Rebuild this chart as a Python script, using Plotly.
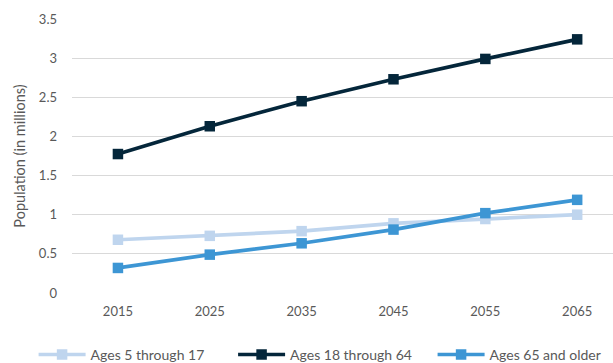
import plotly.graph_objects as go

years = ["2015", "2025", "2035", "2045", "2055", "2065"]
ages_5_17 = [0.68, 0.73, 0.79, 0.89, 0.945, 1.0]
ages_18_64 = [1.775, 2.13, 2.45, 2.73, 2.99, 3.24]
ages_65_up = [0.32, 0.49, 0.635, 0.81, 1.02, 1.19]

series = [
    ("Ages 5 through 17", ages_5_17, "#bfd5ee"),
    ("Ages 18 through 64", ages_18_64, "#04263a"),
    ("Ages 65 and older", ages_65_up, "#3d96d4"),
]

fig = go.Figure()
for name, vals, col in series:
    fig.add_trace(go.Scatter(
        x=years, y=vals, name=name, mode="lines+markers",
        line=dict(color=col, width=3.7),
        marker=dict(symbol="square", size=10.5, color=col),
    ))

font = "Lato, 'Open Sans', sans-serif"
fig.update_layout(
    width=613, height=363,
    margin=dict(l=72, r=0, t=19, b=70, autoexpand=False),
    paper_bgcolor="white", plot_bgcolor="white",
    font=dict(family=font, size=13, color="#595959"),
    showlegend=True,
    legend=dict(orientation="h", x=-0.071, xanchor="left",
                y=-0.226, yanchor="middle",
                font=dict(size=14, color="#595959"), itemwidth=47,
                entrywidth=137.5, entrywidthmode="pixels",
                traceorder="normal"),
    xaxis=dict(type="category", range=[-0.5, 5.39], showgrid=False, zeroline=False,
               showline=False, ticks="", ticklabelstandoff=9,
               tickfont=dict(size=13, color="#595959")),
    yaxis=dict(range=[0, 3.5], dtick=0.5, showgrid=True, gridcolor="#d9d9d9", gridwidth=1.3,
               zeroline=False, showline=False, ticks="", ticklabelstandoff=14,
               tickformat="~g",
               title=dict(text="Population (in millions)", font=dict(size=14.5, color="#595959"),
                          standoff=9),
               tickfont=dict(size=13, color="#595959")),
)

fig.write_html("out.html")
